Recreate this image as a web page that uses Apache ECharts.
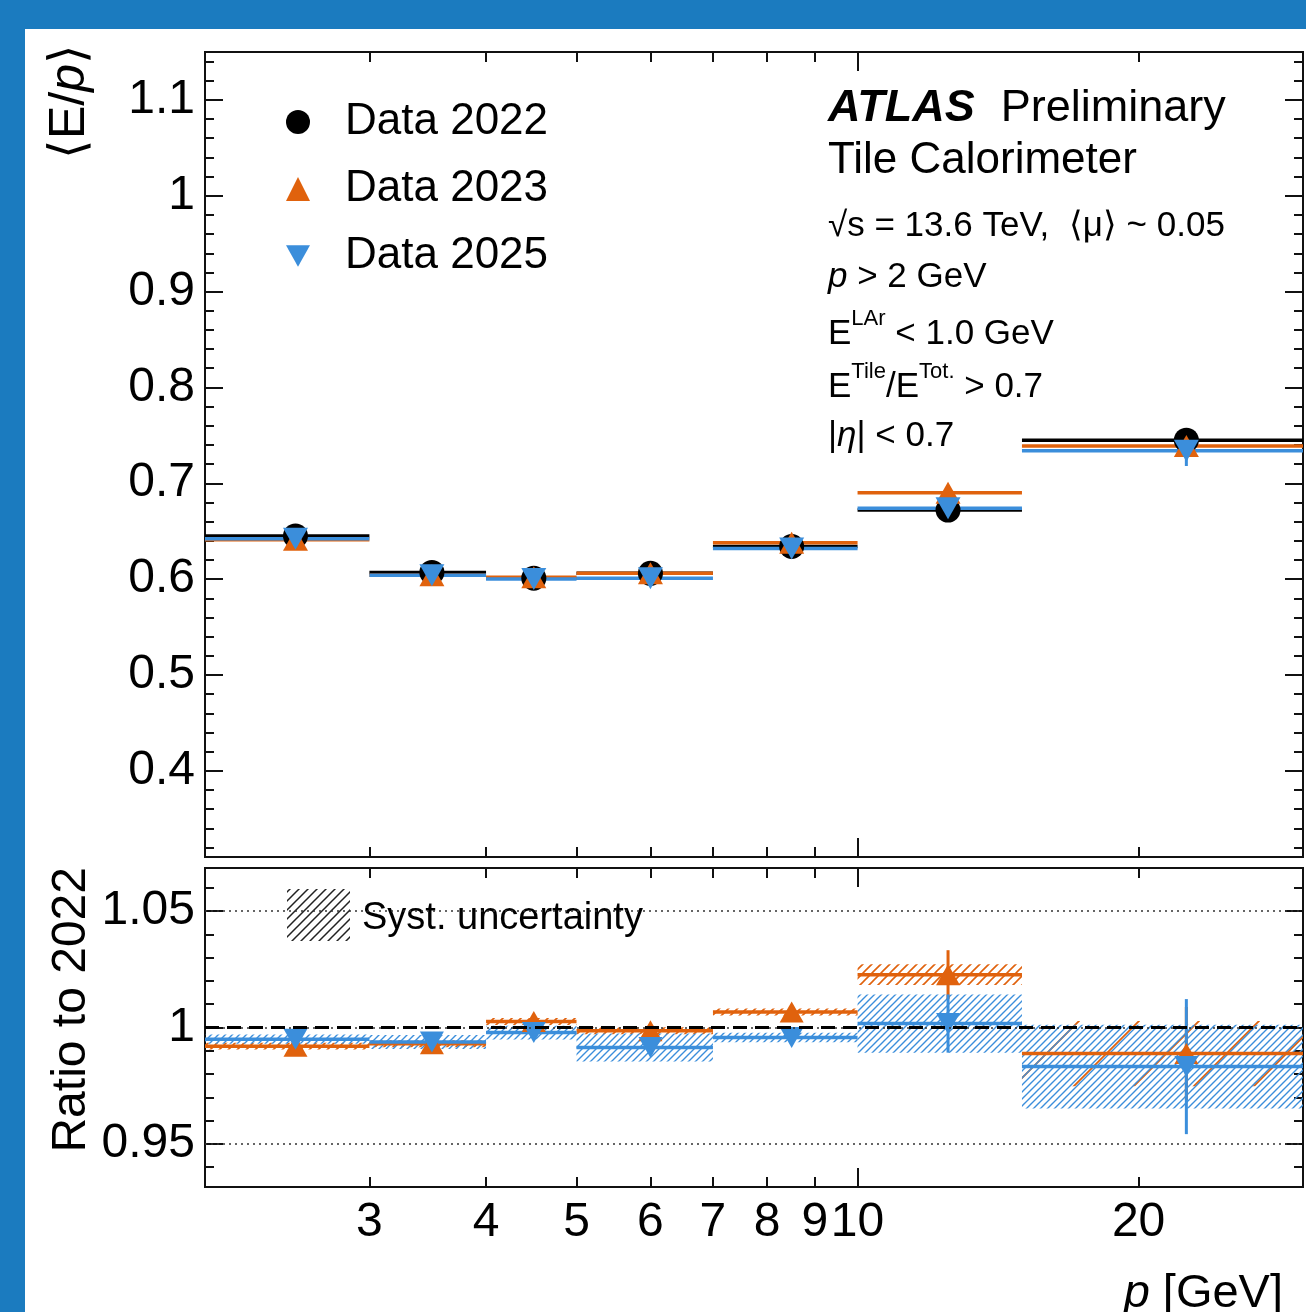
<!DOCTYPE html>
<html><head><meta charset="utf-8">
<script src="https://cdn.jsdelivr.net/npm/echarts@6/dist/echarts.min.js"></script>
<style>
html,body{margin:0;padding:0;background:#1b7bbf;width:1306px;height:1312px;overflow:hidden}
#panel{position:absolute;left:25px;top:29px;width:1281px;height:1283px;background:#fff}
#chart{position:absolute;left:0;top:0;width:1306px;height:1312px}
</style></head><body>
<div id="panel"></div><div id="chart"></div>
<script>
// ---------------- data ----------------
const binLow    = [2, 3, 4, 5, 7, 10, 15];
const binHigh   = [3, 4, 5, 7, 10, 15, 30];
const binCenter = [2.5, 3.5, 4.5, 6, 8.5, 12.5, 22.5];

const ep2022 = [0.645, 0.607, 0.601, 0.606, 0.634, 0.672, 0.745];
const ep2023 = [0.641, 0.604, 0.602, 0.606, 0.638, 0.690, 0.739];
const ep2025 = [0.642, 0.604, 0.600, 0.601, 0.632, 0.674, 0.734];
const epErr2022 = [0.002, 0.002, 0.002, 0.002, 0.003, 0.004, 0.006];
const epErr2023 = [0.002, 0.002, 0.002, 0.002, 0.003, 0.006, 0.008];
const epErr2025 = [0.002, 0.002, 0.002, 0.002, 0.003, 0.006, 0.016];

const ratio2023 = [0.992, 0.993, 1.0026, 0.9986, 1.0067, 1.0227, 0.9888];
const ratio2025 = [0.995, 0.9938, 0.9978, 0.9914, 0.9957, 1.0017, 0.9832];
const ratioErr2023 = [0.001, 0.001, 0.0015, 0.0015, 0.002, 0.0105, 0.020];
const ratioErr2025 = [0.001, 0.001, 0.0015, 0.0015, 0.002, 0.0125, 0.029];
const syst2023 = [0.0015, 0.0015, 0.0015, 0.0015, 0.0015, 0.0045, 0.014];
const syst2025 = [0.002, 0.003, 0.003, 0.006, 0.002, 0.0125, 0.018];

const xMinorTicks = [3, 4, 5, 6, 7, 8, 9, 20];
const xMajorTicks = [10];
const xTickLabels = [3, 4, 5, 6, 7, 8, 9, 10, 20];
const yMajorTop = [0.4, 0.5, 0.6, 0.7, 0.8, 0.9, 1.0, 1.1];
const yMajorRatio = [0.95, 1.0, 1.05];
const yMinorTop = []; for (let i = 32; i <= 114; i += 2) yMinorTop.push(i / 100);
const yMinorRatio = []; for (let i = 94; i <= 106; i += 1) yMinorRatio.push(i / 100);

const names = ['Data 2022', 'Data 2023', 'Data 2025'];
// ---------------- style ----------------
const FONT = '"Liberation Sans", Arial, Helvetica, sans-serif';
const C22 = '#000000', C23 = '#e0620d', C25 = '#3b8edb';
const DOWN = 'path://M0,0L20,0L10,18Z';

function hatch(color, size, lw) {
  const c = document.createElement('canvas');
  c.width = size; c.height = size;
  const g = c.getContext('2d');
  g.strokeStyle = color; g.lineWidth = lw;
  g.beginPath();
  g.moveTo(0, size); g.lineTo(size, 0);
  g.moveTo(-size, size); g.lineTo(size, -size);
  g.moveTo(0, 2 * size); g.lineTo(2 * size, 0);
  g.stroke();
  return { image: c, repeat: 'repeat' };
}
const hatch23 = hatch(C23, 9, 1.6);
const hatch23s = hatch(C23, 60, 1.8);
const hatch25 = hatch(C25, 7, 1.4);
const hatchBlack = hatch('#222', 9, 1.5);

function xAx(grid, pos, ticks, len, labels) {
  return {
    type: 'log', logBase: 10, gridIndex: grid, position: pos, min: 2, max: 30,
    axisLine: { show: true, onZero: false, lineStyle: { color: '#111', width: 2 } },
    axisTick: { show: true, inside: true, length: len, customValues: ticks, lineStyle: { color: '#111', width: 2 } },
    axisLabel: labels ? { show: true, customValues: labels, margin: 12, fontSize: 48, fontFamily: FONT, color: '#000',
      formatter: v => String(Math.round(v)) } : { show: false },
    splitLine: { show: false }, minorTick: { show: false }, minorSplitLine: { show: false }
  };
}
function yAx(grid, pos, min, max, ticks, len, labels) {
  return {
    type: 'value', gridIndex: grid, position: pos, min: min, max: max,
    axisLine: { show: true, onZero: false, lineStyle: { color: '#111', width: 2 } },
    axisTick: { show: true, inside: true, length: len, customValues: ticks, lineStyle: { color: '#111', width: 2 } },
    axisLabel: labels ? { show: true, customValues: labels, margin: 10, fontSize: 48, fontFamily: FONT, color: '#000',
      formatter: v => String(+(+v).toFixed(3)) } : { show: false },
    splitLine: { show: false }, minorTick: { show: false }
  };
}

function binSeries(name, vals, errs, color, ax) {
  return {
    type: 'custom', name: name, xAxisIndex: ax, yAxisIndex: ax, clip: true, silent: true,
    data: vals.map((v, i) => [binLow[i], binHigh[i], binCenter[i], v, errs[i]]),
    encode: { x: [0, 1, 2], y: 3 },
    renderItem: (p, api) => {
      const y = api.value(3), e = api.value(4);
      const a = api.coord([api.value(0), y]), b = api.coord([api.value(1), y]);
      const t = api.coord([api.value(2), y + e]), d = api.coord([api.value(2), y - e]);
      return { type: 'group', children: [
        { type: 'line', shape: { x1: a[0], y1: a[1], x2: b[0], y2: b[1] }, style: { stroke: color, lineWidth: 3.5 } },
        { type: 'line', shape: { x1: t[0], y1: t[1], x2: d[0], y2: d[1] }, style: { stroke: color, lineWidth: 3 } }
      ] };
    }
  };
}
function bandSeries(name, vals, syst, dense, sparse, ax) {
  return {
    type: 'custom', name: name, xAxisIndex: ax, yAxisIndex: ax, clip: true, silent: true,
    data: vals.map((v, i) => [binLow[i], binHigh[i], v, syst[i]]),
    encode: { x: [0, 1], y: 2 },
    renderItem: (p, api) => {
      const y = api.value(2), s = api.value(3);
      const p1 = api.coord([api.value(0), y + s]), p2 = api.coord([api.value(1), y - s]);
      const h = p2[1] - p1[1];
      return { type: 'rect', shape: { x: p1[0], y: p1[1], width: p2[0] - p1[0], height: h },
        style: { fill: (sparse && h > 40) ? sparse : dense, stroke: null } };
    }
  };
}
function markSeries(name, vals, color, symbol, size, ax) {
  return {
    type: 'scatter', name: name, xAxisIndex: ax, yAxisIndex: ax, silent: true,
    data: binCenter.map((x, i) => [x, vals[i]]),
    symbol: symbol, symbolSize: size, itemStyle: { color: color, opacity: 1 }
  };
}

const chart = echarts.init(document.getElementById('chart'), null, { renderer: 'canvas' });
const option = {
  animation: false,
  backgroundColor: 'transparent',
  textStyle: { fontFamily: FONT },
  grid: [
    { left: 205, top: 52, width: 1098, height: 805 },
    { left: 205, top: 868, width: 1098, height: 319 }
  ],
  xAxis: [
    xAx(0, 'bottom', xMinorTicks, 10), xAx(0, 'bottom', xMajorTicks, 19),
    xAx(0, 'top', xMinorTicks, 10), xAx(0, 'top', xMajorTicks, 19),
    xAx(1, 'bottom', xMinorTicks, 10, xTickLabels), xAx(1, 'bottom', xMajorTicks, 19),
    xAx(1, 'top', xMinorTicks, 10), xAx(1, 'top', xMajorTicks, 19)
  ],
  yAxis: [
    yAx(0, 'left', 0.31, 1.15, yMajorTop, 18, yMajorTop), yAx(0, 'left', 0.31, 1.15, yMinorTop, 9),
    yAx(0, 'right', 0.31, 1.15, yMajorTop, 18), yAx(0, 'right', 0.31, 1.15, yMinorTop, 9),
    yAx(1, 'left', 0.9315, 1.0685, yMajorRatio, 18, yMajorRatio), yAx(1, 'left', 0.9315, 1.0685, yMinorRatio, 9),
    yAx(1, 'right', 0.9315, 1.0685, yMajorRatio, 18), yAx(1, 'right', 0.9315, 1.0685, yMinorRatio, 9)
  ],
  legend: {
    data: names, orient: 'vertical', left: 281, top: 95, itemWidth: 24, itemHeight: 24, itemGap: 23,
    selectedMode: false,
    textStyle: { fontSize: 44, fontFamily: FONT, color: '#000', lineHeight: 44, padding: [0, 0, 0, 30] }
  },
  series: [
    binSeries('bins 2022', ep2022, epErr2022, C22, 0),
    markSeries('Data 2022', ep2022, C22, 'circle', 25, 0),
    binSeries('bins 2023', ep2023, epErr2023, C23, 0),
    markSeries('Data 2023', ep2023, C23, 'triangle', [25, 22], 0),
    binSeries('bins 2025', ep2025, epErr2025, C25, 0),
    markSeries('Data 2025', ep2025, C25, DOWN, [25, 22], 0),

    bandSeries('syst 2023', ratio2023, syst2023, hatch23, hatch23s, 4),
    bandSeries('syst 2025', ratio2025, syst2025, hatch25, null, 4),
    { type: 'line', name: 'ref', xAxisIndex: 4, yAxisIndex: 4, data: [], silent: true,
      markLine: { symbol: 'none', silent: true, label: { show: false },
        lineStyle: { type: [2, 4], width: 1.5, color: '#333' },
        data: [{ yAxis: 1.05 }, { yAxis: 1.0 }, { yAxis: 0.95 }] } },
    { type: 'line', name: 'unity', xAxisIndex: 4, yAxisIndex: 4, data: [], silent: true,
      markLine: { symbol: 'none', silent: true, label: { show: false },
        lineStyle: { type: [14, 8], width: 3, color: '#000' },
        data: [{ yAxis: 1.0 }] } },
    binSeries('ratio bins 2023', ratio2023, ratioErr2023, C23, 4),
    markSeries('Ratio 2023', ratio2023, C23, 'triangle', [24, 21], 4),
    binSeries('ratio bins 2025', ratio2025, ratioErr2025, C25, 4),
    markSeries('Ratio 2025', ratio2025, C25, DOWN, [24, 21], 4)
  ],
  graphic: [
    { type: 'text', x: 70, y: 44, rotation: Math.PI / 2,
      style: { text: '⟨E/{i|p}⟩', align: 'right', verticalAlign: 'middle', font: '50px ' + FONT, fill: '#000',
        rich: { i: { fontStyle: 'italic', fontSize: 50, fontFamily: FONT } } } },
    { type: 'text', x: 72, y: 867, rotation: Math.PI / 2,
      style: { text: 'Ratio to 2022', align: 'right', verticalAlign: 'middle', font: '48px ' + FONT, fill: '#000' } },
    { type: 'text', x: 1283, y: 1294,
      style: { text: '{i|p} [GeV]', align: 'right', verticalAlign: 'middle', font: '47px ' + FONT, fill: '#000',
        rich: { i: { fontStyle: 'italic', fontSize: 47, fontFamily: FONT } } } },
    { type: 'text', x: 828, y: 109,
      style: { text: '{b|ATLAS}{n|Preliminary}', align: 'left', verticalAlign: 'middle', fill: '#000',
        rich: { b: { fontStyle: 'italic', fontWeight: 'bold', fontSize: 45, fontFamily: FONT, padding: [0, 26, 0, 0] },
                n: { fontSize: 45, fontFamily: FONT } } } },
    { type: 'text', x: 828, y: 161,
      style: { text: 'Tile Calorimeter', align: 'left', verticalAlign: 'middle', font: '44px ' + FONT, fill: '#000' } },
    { type: 'text', x: 828, y: 226,
      style: { text: '√s = 13.6 TeV,  ⟨μ⟩ ~ 0.05', align: 'left', verticalAlign: 'middle', font: '35px ' + FONT, fill: '#000' } },
    { type: 'text', x: 828, y: 277,
      style: { text: '{i|p} > 2 GeV', align: 'left', verticalAlign: 'middle', font: '35px ' + FONT, fill: '#000',
        rich: { i: { fontStyle: 'italic', fontSize: 35, fontFamily: FONT } } } },
    { type: 'text', x: 828, y: 330,
      style: { text: '{m|E}{s|LAr}{m| < 1.0 GeV}', align: 'left', verticalAlign: 'middle', fill: '#000',
        rich: { m: { fontSize: 35, fontFamily: FONT, lineHeight: 44, verticalAlign: 'bottom' },
                s: { fontSize: 22, fontFamily: FONT, lineHeight: 22, verticalAlign: 'top' } } } },
    { type: 'text', x: 828, y: 383,
      style: { text: '{m|E}{s|Tile}{m|/E}{s|Tot.}{m| > 0.7}', align: 'left', verticalAlign: 'middle', fill: '#000',
        rich: { m: { fontSize: 35, fontFamily: FONT, lineHeight: 44, verticalAlign: 'bottom' },
                s: { fontSize: 22, fontFamily: FONT, lineHeight: 22, verticalAlign: 'top' } } } },
    { type: 'text', x: 828, y: 436,
      style: { text: '|{i|η}| < 0.7', align: 'left', verticalAlign: 'middle', font: '35px ' + FONT, fill: '#000',
        rich: { i: { fontStyle: 'italic', fontSize: 35, fontFamily: FONT } } } },
    { type: 'rect', shape: { x: 287, y: 889, width: 63, height: 52 }, style: { fill: hatchBlack, stroke: null } },
    { type: 'text', x: 362, y: 919,
      style: { text: 'Syst. uncertainty', align: 'left', verticalAlign: 'middle', font: '38px ' + FONT, fill: '#000' } }
  ]
};
chart.setOption(option);
</script>
</body></html>
